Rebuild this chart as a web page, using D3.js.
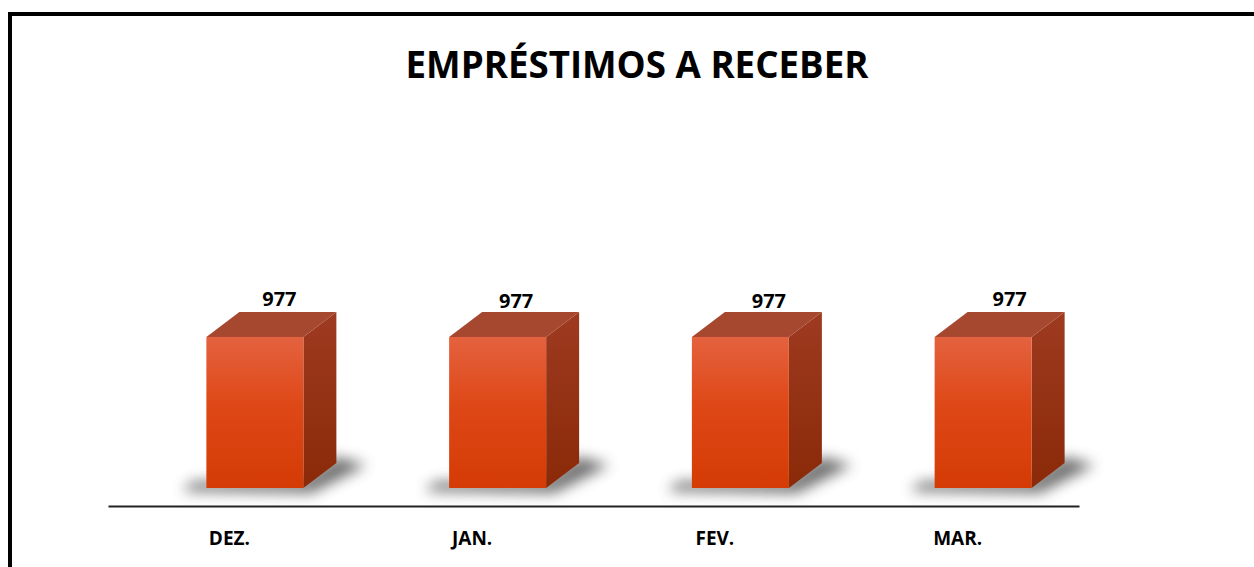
<!DOCTYPE html>
<html><head><meta charset="utf-8">
<script src="https://cdn.jsdelivr.net/npm/d3@7/dist/d3.min.js"></script>
<style>body{margin:0;background:#fff}svg{display:block}</style>
</head><body>
<svg id="c" width="1254" height="567"></svg>
<script>
const categories = ["DEZ.", "JAN.", "FEV.", "MAR."];
const values = [977, 977, 977, 977];
const valueLabels = ["977", "977", "977", "977"];
const title = "EMPRÉSTIMOS A RECEBER";

const svg = d3.select("#c");
const W = 1254, H = 567;
const font = "'Open Sans', 'Liberation Sans', sans-serif";

const defs = svg.append("defs");
const gFront = defs.append("linearGradient").attr("id","gf").attr("x1",0).attr("y1",0).attr("x2",0).attr("y2",1);
gFront.append("stop").attr("offset","0%").attr("stop-color","#e4623f");
gFront.append("stop").attr("offset","45%").attr("stop-color","#de4817");
gFront.append("stop").attr("offset","100%").attr("stop-color","#d43b05");
const gSide = defs.append("linearGradient").attr("id","gs").attr("x1",0).attr("y1",0).attr("x2",0).attr("y2",1);
gSide.append("stop").attr("offset","0%").attr("stop-color","#9e3a20");
gSide.append("stop").attr("offset","100%").attr("stop-color","#8a2a08");
const blur = defs.append("filter").attr("id","blur").attr("x","-50%").attr("y","-50%").attr("width","200%").attr("height","200%");
blur.append("feGaussianBlur").attr("stdDeviation",7);

// frame
svg.append("rect").attr("x",10).attr("y",14).attr("width",W+20).attr("height",H+20)
  .attr("fill","none").attr("stroke","#000").attr("stroke-width",4);

// title
svg.append("text").attr("x",637).attr("y",78).attr("text-anchor","middle")
  .attr("font-family",font).attr("font-weight",700).attr("font-size",37)
  .attr("textLength",463).attr("lengthAdjust","spacingAndGlyphs")
  .attr("fill","#000").text(title);

const x = d3.scaleBand().domain(categories).range([108,1079]).paddingInner(0).paddingOuter(0);
const y = d3.scaleLinear().domain([0,1200]).range([488,302.5]);
const barOffset = -23, barW = 97, dx = 33, dy = 25;

const g = svg.append("g");
categories.forEach((c,i) => {
  const x0 = x(c) + x.bandwidth()/2 + barOffset;
  const yt = y(values[i]), yb = y(0);
  // shadow
  g.append("path").attr("filter","url(#blur)").attr("fill","#555").attr("opacity",0.85)
    .attr("d",`M${x0-24},${yb+3} L${x0+barW+8},${yb+5} L${x0+barW+dx+30},${yb-dy+2} L${x0+barW+dx},${yb-dy-6} L${x0+barW},${yb-8} L${x0-14},${yb-6} Z`);
  // side
  g.append("path").attr("fill","url(#gs)")
    .attr("d",`M${x0+barW},${yt} L${x0+barW+dx},${yt-dy} L${x0+barW+dx},${yb-dy} L${x0+barW},${yb} Z`);
  // top
  g.append("path").attr("fill","#a6472f")
    .attr("d",`M${x0},${yt} L${x0+dx},${yt-dy} L${x0+barW+dx},${yt-dy} L${x0+barW},${yt} Z`);
  // front
  g.append("rect").attr("x",x0).attr("y",yt).attr("width",barW).attr("height",yb-yt).attr("fill","url(#gf)");
});

// value labels
const labelDx = [50, 44, 54, 52];
const labelY = [306, 308, 308, 306];
categories.forEach((c,i) => {
  svg.append("text").attr("x", x(c)+x.bandwidth()/2+labelDx[i]).attr("y", labelY[i])
    .attr("text-anchor","middle").attr("font-family",font).attr("font-weight",700)
    .attr("font-size",20).attr("fill","#000").text(valueLabels[i]);
});

// axis
const axis = d3.axisBottom(x).tickSize(0).tickPadding(0);
const ag = svg.append("g").attr("transform","translate(0,506)").call(axis);
ag.select(".domain").attr("stroke","#222").attr("stroke-width",2);
ag.selectAll(".tick text").attr("dy",0).attr("y",39).attr("font-family",font)
  .attr("font-weight",700).attr("font-size",19).attr("fill","#000");
</script>
</body></html>
